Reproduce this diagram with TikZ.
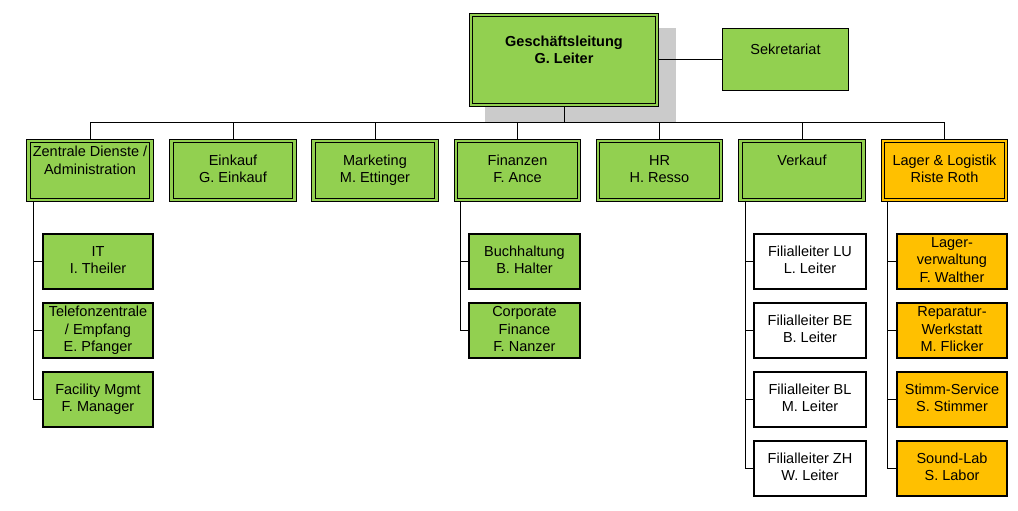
\documentclass[tikz,border=0pt]{standalone}
\usepackage{fontspec}
\setmainfont{Liberation Sans}
\definecolor{grn}{HTML}{92D050}
\definecolor{org}{HTML}{FFC000}
\definecolor{shd}{HTML}{CBCBCB}
\newcommand\zs{\rule[-3.5bp]{0pt}{14bp}}
\pgfdeclarelayer{bg}
\pgfsetlayers{bg,main}
\begin{document}
\begin{tikzpicture}[x=1bp,y=-1bp]
\useasboundingbox (0,0) rectangle (1018,511);
\tikzset{
 txt/.style={align=center, inner sep=0pt, font=\fontsize{14.5bp}{17.5bp}\selectfont, text=black},
 box/.style={txt, draw=black, line width=1.1bp},
 dbox/.style={txt, draw=black, line width=1.1bp, double=#1, double distance=2.4bp, fill=#1, minimum width=123bp, minimum height=59bp},
 subbox/.style={box, fill=#1, minimum height=55bp},
 conn/.style={draw=black, line width=1bp},
}
% top
\node[dbox=grn, minimum width=186bp, minimum height=90bp, font=\fontsize{14.5bp}{17.5bp}\selectfont\bfseries] (gl) at (564,60) {\zs Geschäftsleitung\\\zs G. Leiter\\\zs};
\node[box, fill=grn, minimum width=126bp, minimum height=62bp] (sek) at (785.5,59.5) {\zs Sekretariat\\\zs};
% second level
\node[dbox=grn] (zd) at (90,170.5) {\zs Zentrale Dienste /\\\zs Administration\\\zs};
\node[dbox=grn] (ek) at (233,170.5) {\zs Einkauf\\\zs G. Einkauf};
\node[dbox=grn] (mk) at (375,170.5) {\zs Marketing\\\zs M. Ettinger};
\node[dbox=grn] (fi) at (517.5,170.5) {\zs Finanzen\\\zs F. Ance};
\node[dbox=grn] (hr) at (659.5,170.5) {\zs HR\\\zs H. Resso};
\node[dbox=grn] (vk) at (802,170.5) {\zs Verkauf\\\zs};
\node[dbox=org] (lg) at (944.5,170.5) {\zs Lager \& Logistik\\\zs Riste Roth};
% Zentrale subs
\node[subbox=grn, minimum width=110bp] (it) at (98,261.5) {\zs IT\\\zs I. Theiler};
\node[subbox=grn, minimum width=110bp] (tel) at (98,330.5) {\zs Telefonzentrale\\\zs / Empfang\\\zs E. Pfanger};
\node[subbox=grn, minimum width=110bp] (fac) at (98,399.5) {\zs Facility Mgmt\\\zs F. Manager};
% Finanzen subs
\node[subbox=grn, minimum width=111bp] (bu) at (524.5,261.5) {\zs Buchhaltung\\\zs B. Halter};
\node[subbox=grn, minimum width=111bp] (cf) at (524.5,330.5) {\zs Corporate\\\zs Finance\\\zs F. Nanzer};
% Verkauf subs
\node[subbox=white, minimum width=112bp] (lu) at (810,261.5) {\zs Filialleiter LU\\\zs L. Leiter};
\node[subbox=white, minimum width=112bp] (be) at (810,330.5) {\zs Filialleiter BE\\\zs B. Leiter};
\node[subbox=white, minimum width=112bp] (bl) at (810,399.5) {\zs Filialleiter BL\\\zs M. Leiter};
\node[subbox=white, minimum width=112bp] (zh) at (810,468.5) {\zs Filialleiter ZH\\\zs W. Leiter};
% Lager subs
\node[subbox=org, minimum width=110bp] (lv) at (952,261.5) {\zs Lager-\\\zs verwaltung\\\zs F. Walther};
\node[subbox=org, minimum width=110bp] (rw) at (952,330.5) {\zs Reparatur-\\\zs Werkstatt\\\zs M. Flicker};
\node[subbox=org, minimum width=110bp] (ss) at (952,399.5) {\zs Stimm-Service\\\zs S. Stimmer};
\node[subbox=org, minimum width=110bp] (sl) at (952,468.5) {\zs Sound-Lab\\\zs S. Labor};
% background: shadow and connectors
\begin{pgfonlayer}{bg}
\fill[shd] (485,28) rectangle (676,123);
\coordinate (busy) at (0,123);
\draw[conn] (gl.east) -- (gl.east -| sek.west);
\draw[conn] (gl.south) -- (gl.south |- busy);
\draw[conn] (zd.north |- busy) -- (lg.north |- busy);
\foreach \n in {zd,ek,mk,fi,hr,vk,lg} \draw[conn] (\n.north) -- (\n.north |- busy);
\coordinate (zdv) at ([xshift=6bp]zd.south west);
\draw[conn] (zdv) |- (fac.west);
\foreach \n in {it,tel} \draw[conn] (zdv |- \n.west) -- (\n.west);
\coordinate (fiv) at ([xshift=5bp]fi.south west);
\draw[conn] (fiv) |- (cf.west);
\draw[conn] (fiv |- bu.west) -- (bu.west);
\coordinate (vkv) at ([xshift=6bp]vk.south west);
\draw[conn] (vkv) |- (zh.west);
\foreach \n in {lu,be,bl} \draw[conn] (vkv |- \n.west) -- (\n.west);
\coordinate (lgv) at ([xshift=5bp]lg.south west);
\draw[conn] (lgv) |- (sl.west);
\foreach \n in {lv,rw,ss} \draw[conn] (lgv |- \n.west) -- (\n.west);
\end{pgfonlayer}
\end{tikzpicture}
\end{document}
